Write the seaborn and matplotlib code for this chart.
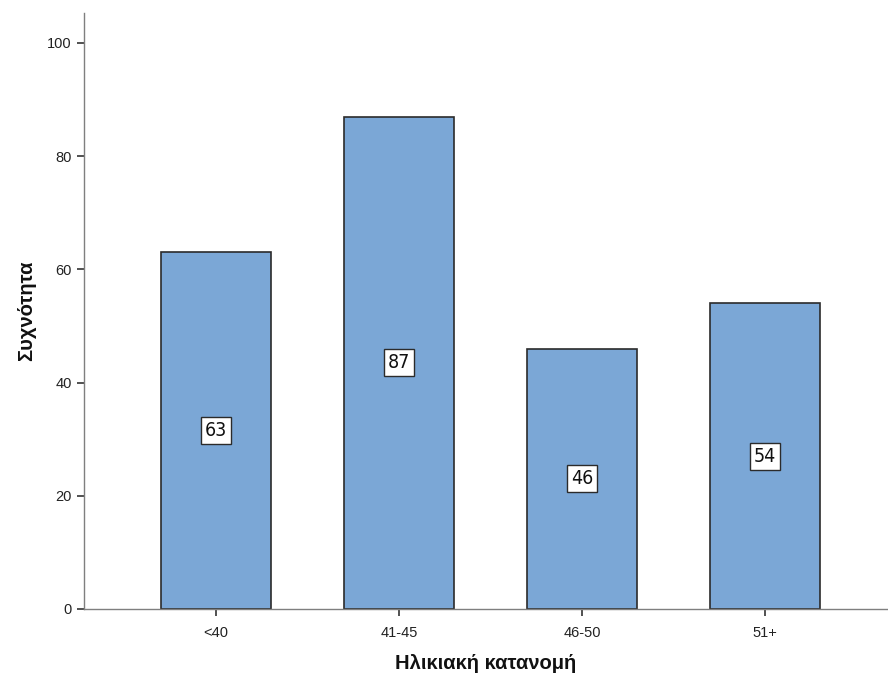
import pandas as pd
import matplotlib
matplotlib.use("Agg")
import matplotlib.pyplot as plt
import seaborn as sns

# data
age_groups = ["<40", "41-45", "46-50", "51+"]
counts = [63, 87, 46, 54]
y_ticks = [0, 20, 40, 60, 80, 100]


def main():
    df = pd.DataFrame({"group": age_groups, "count": counts})

    sns.set_style("white")
    plt.rcParams["font.family"] = ["Liberation Sans", "DejaVu Sans"]

    fig = plt.figure(figsize=(8.88, 6.75), dpi=100)
    ax = fig.add_axes([0.0946, 0.0978, 0.9054, 0.883])

    sns.barplot(data=df, x="group", y="count", ax=ax, color="#7BA7D6",
                saturation=1, width=0.6, edgecolor="#2b2b2b", linewidth=1.2)

    # value boxes in the middle of each bar
    for i, v in enumerate(counts):
        ax.text(i, v / 2, str(v), ha="center", va="center", fontsize=14,
                family=["DejaVu Sans"], fontstretch="condensed",
                color="#111111",
                bbox=dict(boxstyle="square,pad=0.2", fc="white",
                          ec="#2b2b2b", lw=1.0))

    ax.set_ylim(0, 105.3)
    ax.set_xlim(-0.72, 3.67)
    ax.set_yticks(y_ticks)

    for side in ["top", "right"]:
        ax.spines[side].set_visible(False)
    for side in ["left", "bottom"]:
        ax.spines[side].set_color("#7f7f7f")
        ax.spines[side].set_linewidth(1.0)

    ax.tick_params(axis="both", which="both", direction="out", length=5,
                   width=1.2, color="#333333", labelsize=10.5,
                   labelcolor="#222222", left=True, bottom=True, pad=4)
    ax.tick_params(axis="x", pad=7)

    ax.set_xlabel("Ηλικιακή κατανομή", fontsize=14.5, fontweight="bold",
                  labelpad=10, color="#111111")
    ax.set_ylabel("Συχνότητα", fontsize=14.5, fontweight="bold", labelpad=8,
                  color="#111111")

    fig.savefig("out.png", dpi=100)


if __name__ == "__main__":
    main()
